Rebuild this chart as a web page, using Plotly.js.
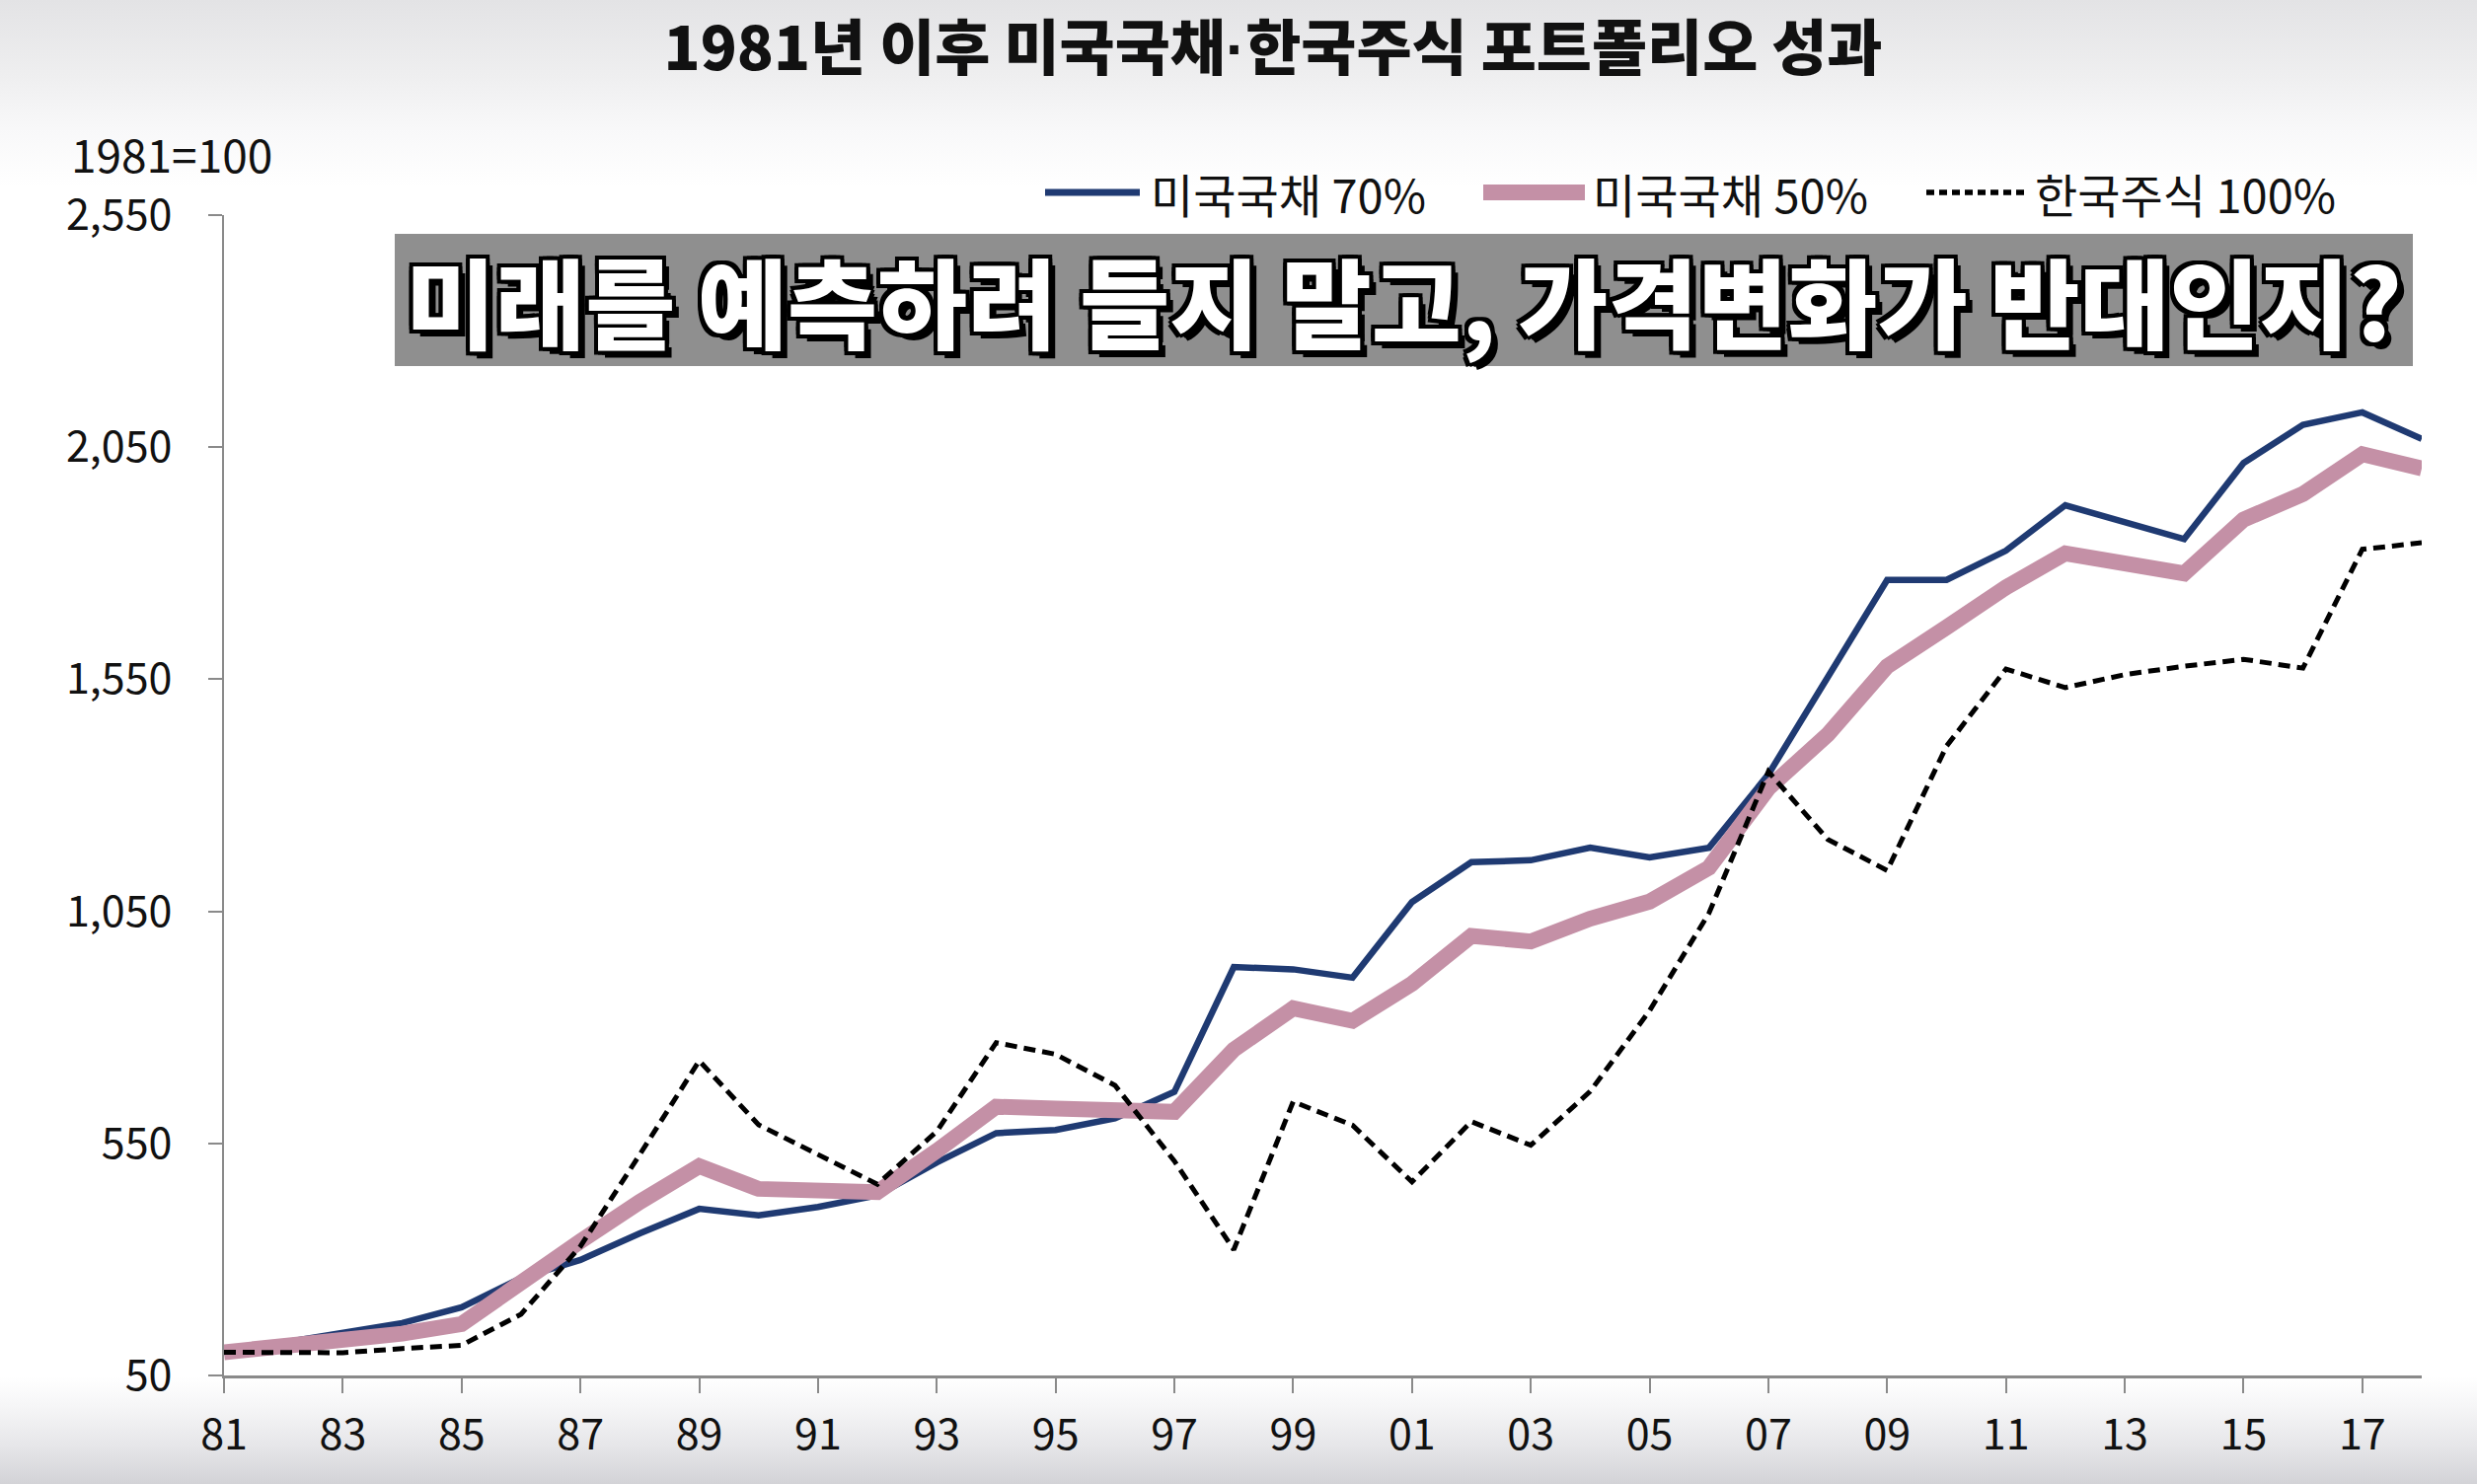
<!DOCTYPE html>
<html>
<head>
<meta charset="utf-8">
<script src="https://cdn.plot.ly/plotly-3.0.1.min.js"></script>
<style>
  html, body { margin:0; padding:0; }
  body {
    width:2510px; height:1504px; overflow:hidden;
    background: linear-gradient(to bottom, #e3e3e5 0px, #efeff0 80px, #f8f8f9 130px, #ffffff 190px, #ffffff 1395px, #f6f6f7 1425px, #e6e6e9 1465px, #d3d3d7 1504px);
  }
  #chart { width:2510px; height:1504px; }
</style>
</head>
<body>
<div id="chart"></div>
<script>
// ---- data ----
const years = [1981,1982,1983,1984,1985,1986,1987,1988,1989,1990,
               1991,1992,1993,1994,1995,1996,1997,1998,1999,2000,
               2001,2002,2003,2004,2005,2006,2007,2008,2009,2010,
               2011,2012,2013,2014,2015,2016,2017,2018];
const usBond70 = [100,120,140,163,197,260,299,356,409,395,
                  413,438,509,572,579,604,661,930,925,907,
                  1070,1156,1160,1187,1166,1187,1345,1555,1764,1764,
                  1827,1925,1888,1852,2016,2098,2125,2068];
const usBond50 = [100,113,126,140,161,254,339,424,501,452,
                  448,445,534,629,625,618,618,752,841,814,
                  894,997,985,1034,1071,1144,1315,1431,1578,1662,
                  1748,1821,1797,1778,1894,1949,2035,2004];
const krStock100 = [100,100,99,108,115,182,328,526,728,590,
                    526,462,576,767,742,675,512,321,640,589,
                    467,597,546,662,836,1046,1351,1205,1138,1406,
                    1572,1532,1560,1578,1593,1574,1830,1844];
const seriesNames = ['미국국채 70%', '미국국채 50%', '한국주식 100%'];
const xTickYears = [1981,1983,1985,1987,1989,1991,1993,1995,1997,1999,
                    2001,2003,2005,2007,2009,2011,2013,2015,2017];
const xTickLabels = ['81','83','85','87','89','91','93','95','97','99',
                     '01','03','05','07','09','11','13','15','17'];
const yTickVals = [50,550,1050,1550,2050,2550];
const titleParts = ['1981년 이후 미국국채', '한국주식 포트폴리오 성과'];
const subtitleText = '미래를 예측하려 들지 말고, 가격변화가 반대인지?';
const yUnitText = '1981=100';

// ---- layout helpers ----
const W = 2510, H = 1504;
const M = {l:227, r:56, t:218, b:110};
const PW = W - M.l - M.r, PH = H - M.t - M.b;
const px = x => (x - M.l) / PW;
const py = y => (H - M.b - y) / PH;
const FONT = '"Noto Sans CJK KR", "Noto Sans", sans-serif';

const colors = ['#1f3a72', '#c490a6', '#000000'];
const widths = [6.5, 16, 5];
const dashes = ['solid', 'solid', '12px,7px'];
const values = [usBond70, usBond50, krStock100];

const traces = values.map((v, i) => ({
  type: 'scatter', mode: 'lines',
  x: years, y: v, name: seriesNames[i],
  line: {color: colors[i], width: widths[i], dash: dashes[i], shape: 'linear'},
  hoverinfo: 'x+y+name'
}));

// custom legend (wide line samples like the original)
const legendItems = [
  {x0:1059, x1:1155, tx:1164},
  {x0:1503, x1:1606, tx:1612},
  {x0:1952, x1:2056, tx:2060}
];
const legendY = 195;
const shapes = [];
const annotations = [];

shapes.push({type:'rect', xref:'paper', yref:'paper',
  x0:px(400), x1:px(2445), y0:py(371), y1:py(237),
  fillcolor:'#8f8f8f', line:{width:0}, layer:'below'});

legendItems.forEach((it, i) => {
  shapes.push({type:'line', xref:'paper', yref:'paper',
    x0:px(it.x0), x1:px(it.x1), y0:py(legendY), y1:py(legendY),
    line:{color:colors[i], width: i===1 ? 16 : (i===0 ? 7 : 5.5), dash: i===2 ? '8px,5px' : 'solid'}});
  annotations.push({xref:'paper', yref:'paper', x:px(it.tx), y:py(legendY),
    xanchor:'left', yanchor:'middle', showarrow:false, text:seriesNames[i],
    font:{family:FONT, size:47, color:'#111111'}});
});

annotations.push({xref:'paper', yref:'paper', x:px(1422), y:py(303),
  xanchor:'center', yanchor:'middle', showarrow:false, text:subtitleText,
  font:{family:FONT, size:99, color:'#ffffff', weight:900,
        shadow:'-4px -4px 0 #000, 4px -4px 0 #000, -4px 4px 0 #000, 4px 4px 0 #000, 0 4px 0 #000, 0 -4px 0 #000, 4px 0 0 #000, -4px 0 0 #000, 7px 7px 0 #000'}});

annotations.push({xref:'paper', yref:'paper', x:px(174), y:py(155),
  xanchor:'center', yanchor:'middle', showarrow:false, text:yUnitText,
  font:{family:FONT, size:46, color:'#111111'}});

const layout = {
  width: W, height: H,
  margin: M,
  paper_bgcolor: 'rgba(0,0,0,0)',
  plot_bgcolor: 'rgba(0,0,0,0)',
  showlegend: false,
  title: {text: titleParts[0] + '<span style="font-family:Liberation Sans">·</span>' + titleParts[1],
          xref:'container', yref:'container',
          x: 1290/W, xanchor:'center', y: 1 - 50/H, yanchor:'middle',
          font:{family:FONT, size:61, color:'#111111', weight:900}},
  xaxis: {
    range:[1981, 2018], tickmode:'array', tickvals:xTickYears, ticktext:xTickLabels,
    ticks:'outside', ticklen:15, tickwidth:2, tickcolor:'#8a8a8a',
    showline:true, linecolor:'#8a8a8a', linewidth:3,
    showgrid:false, zeroline:false, ticklabelstandoff:5,
    tickfont:{family:FONT, size:43, color:'#111111'}
  },
  yaxis: {
    range:[50, 2550], tickmode:'array', tickvals:yTickVals, tickformat:',d',
    ticks:'outside', ticklen:14, tickwidth:2, tickcolor:'#8a8a8a',
    showline:true, linecolor:'#8a8a8a', linewidth:2,
    showgrid:false, zeroline:false, ticklabelstandoff:28,
    tickfont:{family:FONT, size:43, color:'#111111'}
  },
  shapes: shapes,
  annotations: annotations
};

Plotly.newPlot('chart', traces, layout, {staticPlot:true, displayModeBar:false});
</script>
</body>
</html>
